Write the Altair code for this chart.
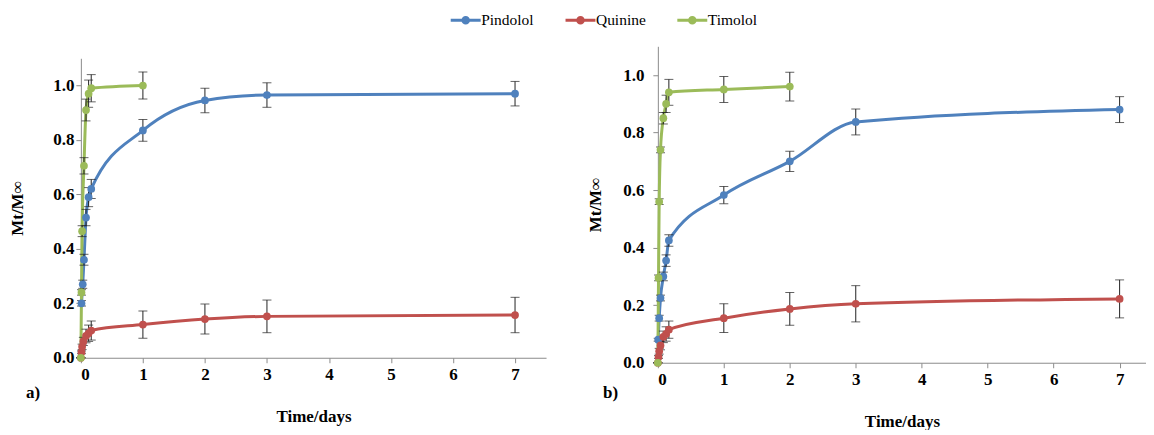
import altair as alt
import pandas as pd

drugs = ["Pindolol", "Quinine", "Timolol"]
colors = ["#4F81BD", "#C0504D", "#9BBB59"]
x_ticks = [0, 1, 2, 3, 4, 5, 6, 7]
y_ticks = [0.0, 0.2, 0.4, 0.6, 0.8, 1.0]
panel_labels = ["a)", "b)"]

# ---- panel a ----
a_pin_t = [0.01, 0.03, 0.05, 0.083, 0.125, 0.167, 1, 2, 3, 7]
a_pin_y = [0.20, 0.27, 0.36, 0.515, 0.59, 0.62, 0.835, 0.945, 0.965, 0.97]
a_pin_e = [0.01, 0.015, 0.02, 0.03, 0.035, 0.035, 0.04, 0.045, 0.045, 0.045]
a_qui_t = [0, 0.01, 0.02, 0.04, 0.083, 0.125, 0.167, 1, 2, 3, 7]
a_qui_y = [0, 0.02, 0.04, 0.06, 0.08, 0.09, 0.10, 0.122, 0.142, 0.152, 0.157]
a_qui_e = [0, 0.005, 0.01, 0.015, 0.025, 0.03, 0.035, 0.05, 0.055, 0.06, 0.065]
a_tim_t = [0, 0.01, 0.02, 0.05, 0.083, 0.125, 0.167, 1]
a_tim_y = [0, 0.24, 0.465, 0.705, 0.91, 0.97, 0.99, 1.0]
a_tim_e = [0, 0.01, 0.02, 0.03, 0.04, 0.05, 0.05, 0.05]

# ---- panel b ----
b_pin_t = [0.005, 0.02, 0.04, 0.083, 0.125, 0.167, 1, 2, 3, 7]
b_pin_y = [0.08, 0.155, 0.225, 0.30, 0.355, 0.425, 0.583, 0.70, 0.837, 0.88]
b_pin_e = [0.005, 0.01, 0.01, 0.015, 0.02, 0.02, 0.03, 0.035, 0.045, 0.045]
b_qui_t = [0, 0.01, 0.02, 0.04, 0.083, 0.125, 0.167, 1, 2, 3, 7]
b_qui_y = [0, 0.02, 0.04, 0.06, 0.09, 0.10, 0.115, 0.155, 0.187, 0.205, 0.222]
b_qui_e = [0, 0.005, 0.01, 0.015, 0.02, 0.025, 0.03, 0.05, 0.057, 0.063, 0.066]
b_tim_t = [0, 0.01, 0.02, 0.04, 0.083, 0.125, 0.167, 1, 2]
b_tim_y = [0, 0.295, 0.56, 0.74, 0.85, 0.90, 0.94, 0.95, 0.96]
b_tim_e = [0, 0.01, 0.01, 0.01, 0.02, 0.03, 0.045, 0.045, 0.05]


def build(series):
    rows = []
    for drug, ts, ys, es in series:
        for t, y, e in zip(ts, ys, es):
            rows.append({"drug": drug, "t": t, "y": y, "lo": y - e, "hi": y + e})
    return pd.DataFrame(rows)


df_a = build([("Pindolol", a_pin_t, a_pin_y, a_pin_e),
              ("Quinine", a_qui_t, a_qui_y, a_qui_e),
              ("Timolol", a_tim_t, a_tim_y, a_tim_e)])
df_b = build([("Pindolol", b_pin_t, b_pin_y, b_pin_e),
              ("Quinine", b_qui_t, b_qui_y, b_qui_e),
              ("Timolol", b_tim_t, b_tim_y, b_tim_e)])

FONT = "Liberation Serif"
sym_path = "M-1.5,0L1.5,0M-0.28,0A0.28,0.28,0,1,1,0.28,0A0.28,0.28,0,1,1,-0.28,0Z"

legend = alt.Legend(
    title=None, orient="none", direction="horizontal", legendX=374, legendY=-38,
    symbolType=sym_path, symbolSize=400, symbolStrokeWidth=3,
    labelFont=FONT, labelFontSize=15.5, labelColor="black", labelOffset=4,
    columnPadding=25,
)


def panel(df, w, h, xmax, lab, lab_y, label_pad, title_pad):
    base = alt.Chart(df)
    x = alt.X("t:Q", scale=alt.Scale(domain=[0, xmax], nice=False),
              axis=alt.Axis(values=x_ticks, format="d", title="Time/days",
                            titlePadding=26, labelPadding=4))
    yax = alt.Axis(values=y_ticks, format=".1f", title="Mt/M∞",
                   labelPadding=label_pad, titlePadding=title_pad)
    y = alt.Y("y:Q", scale=alt.Scale(domain=[0, 1.1], nice=False), axis=yax)
    color = alt.Color("drug:N", scale=alt.Scale(domain=drugs, range=colors),
                      legend=legend)
    lines = base.mark_line(interpolate="monotone", strokeWidth=3).encode(
        x=x, y=y, color=color, order="t:Q")
    pts = base.mark_point(filled=True, size=60, opacity=1).encode(
        x=x, y=y, color=color)
    err = base.mark_errorbar(ticks={"size": 9}, color="#222").encode(
        x=alt.X("t:Q"),
        y=alt.Y("lo:Q", title="Mt/M∞"),
        y2="hi:Q")
    lab_df = pd.DataFrame({"lab": [lab]})
    txt = alt.Chart(lab_df).mark_text(
        font=FONT, fontSize=17, fontWeight="bold", align="left", baseline="middle",
        color="black").encode(x=alt.value(-55), y=alt.value(lab_y), text="lab:N")
    return alt.layer(lines, err, pts, txt).properties(width=w, height=h)


left = panel(df_a, 466, 300, 7.5, panel_labels[0], 335, 2, 26)
right = panel(df_b, 489, 317, 7.4, panel_labels[1], 347, 9, 18)

spacer = alt.Chart(pd.DataFrame({"lab": [""]})).mark_text(color="white").encode(
    text="lab:N").properties(width=466, height=12)

left_col = alt.vconcat(spacer, left, spacing=0)

chart = alt.hconcat(left_col, right, spacing=40).resolve_scale(
    color="shared", x="independent", y="independent"
).properties(
    padding={"left": 0, "top": 0, "right": 0, "bottom": 0}
).configure_view(stroke=None).configure_axis(
    grid=False, domainColor="#8c8c8c", tickColor="#8c8c8c", tickSize=5,
    labelFont=FONT, labelFontSize=17, labelFontWeight="bold", labelColor="black",
    titleFont=FONT, titleFontSize=17, titleFontWeight="bold", titleColor="black",
).configure_legend(labelFont=FONT, labelFontSize=15.5)

chart.save("out.html", embed_options={"renderer": "svg", "actions": False})
